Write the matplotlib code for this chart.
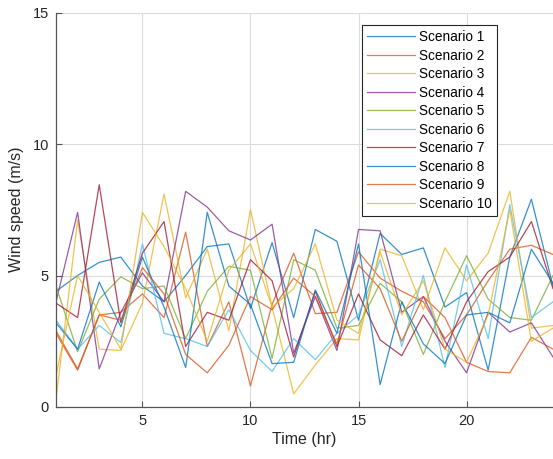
import matplotlib
matplotlib.use('Agg')
import matplotlib.pyplot as plt

# Horas y velocidades de viento por escenario (m/s)
horas = list(range(1, 25))

s1 = [4.4, 5.0, 5.5, 5.7, 4.6, 4.0, 5.0, 6.1, 6.2, 3.75, 6.25, 3.4, 6.75, 6.3, 3.3, 6.6, 5.8, 6.05, 3.8, 4.35, 1.4, 5.7, 7.9, 4.6]
s2 = [2.9, 1.45, 3.5, 3.6, 4.3, 3.4, 6.65, 2.3, 4.0, 0.8, 3.9, 5.85, 3.55, 3.6, 5.9, 4.9, 4.4, 4.0, 2.6, 3.5, 4.8, 6.0, 6.15, 5.8]
s3 = [0.3, 7.1, 2.2, 2.15, 3.95, 8.1, 4.15, 6.0, 2.9, 7.5, 3.8, 0.5, 1.6, 2.6, 2.55, 6.0, 5.75, 3.7, 6.05, 4.8, 5.85, 8.2, 3.0, 3.1]
s4 = [4.0, 7.4, 1.45, 3.6, 5.1, 4.0, 8.2, 7.6, 6.7, 6.35, 6.95, 2.05, 4.2, 2.15, 6.75, 6.7, 3.6, 4.2, 2.5, 1.3, 3.6, 2.85, 3.2, 1.9]
s5 = [4.6, 2.1, 4.1, 4.95, 4.5, 4.6, 2.6, 4.4, 5.35, 5.2, 1.85, 5.6, 5.2, 3.0, 3.1, 4.7, 4.0, 2.0, 4.0, 5.75, 4.1, 3.4, 3.3, 5.0]
s6 = [3.3, 2.2, 3.1, 2.45, 6.2, 2.8, 2.6, 2.3, 3.7, 2.15, 1.35, 2.6, 1.8, 2.8, 3.5, 5.6, 2.3, 5.0, 1.5, 5.4, 2.6, 7.7, 3.4, 4.0]
s7 = [3.95, 3.4, 8.45, 3.2, 5.85, 7.05, 2.3, 3.6, 3.3, 5.6, 4.8, 1.9, 4.4, 2.3, 4.3, 2.55, 1.95, 3.5, 2.2, 4.0, 5.15, 5.7, 7.05, 4.5]
s8 = [3.2, 2.2, 4.75, 3.05, 5.7, 3.8, 1.5, 7.4, 4.6, 3.9, 1.65, 1.7, 4.45, 2.8, 6.2, 0.85, 4.0, 2.4, 1.65, 3.5, 3.6, 3.2, 6.0, 4.7]
s9 = [2.8, 1.4, 3.5, 3.3, 5.3, 4.3, 2.0, 1.3, 2.35, 4.2, 3.7, 4.9, 4.2, 2.4, 5.4, 4.5, 2.5, 4.2, 3.4, 1.7, 1.35, 1.3, 2.65, 2.2]
s10 = [1.2, 5.0, 3.6, 2.2, 7.4, 6.1, 4.5, 2.5, 5.2, 6.2, 3.8, 4.5, 6.2, 3.3, 2.8, 5.9, 3.5, 4.8, 2.2, 1.7, 3.5, 7.5, 2.5, 3.0]

escenarios = [s1, s2, s3, s4, s5, s6, s7, s8, s9, s10]
nombres = ['Scenario %d' % (i + 1) for i in range(len(escenarios))]

# Colores por defecto de MATLAB
colores = ['#0072BD', '#D95319', '#EDB120', '#7E2F8E', '#77AC30',
           '#4DBEEE', '#A2142F']


def main():
    plt.rcParams['font.family'] = ['Liberation Sans', 'DejaVu Sans']

    fig = plt.figure(figsize=(5.53, 4.59), dpi=100)
    ax = fig.add_axes([56 / 553, 52 / 459, 497 / 553, 394.5 / 459])

    for i, valores in enumerate(escenarios):
        ax.plot(horas, valores, color=colores[i % len(colores)], lw=0.9,
                alpha=0.78, label=nombres[i])

    ax.set_xlim(1, 24)
    ax.set_ylim(0, 15)
    ax.set_xticks([5, 10, 15, 20])
    ax.set_yticks([0, 5, 10, 15])
    ax.grid(True, color='#dcdcdc', lw=0.8)
    ax.set_axisbelow(True)

    for lado in ['top', 'right']:
        ax.spines[lado].set_visible(False)
    for lado in ['left', 'bottom']:
        ax.spines[lado].set_color('#555555')
        ax.spines[lado].set_linewidth(0.9)
    ax.tick_params(direction='in', length=4, width=0.8, color='#555555',
                   labelsize=10.5, labelcolor='#262626', pad=5)

    ax.set_xlabel('Time (hr)', fontsize=11.5, color='#262626', labelpad=3)
    ax.set_ylabel('Wind speed (m/s)', fontsize=11.5, color='#262626', labelpad=6)

    leg = ax.legend(loc='upper left', bbox_to_anchor=(361.7 / 553, 1 - 25 / 459),
                    bbox_transform=fig.transFigure, fontsize=9.8,
                    handlelength=3.5, handletextpad=0.3, labelspacing=0.33,
                    borderpad=0.38, borderaxespad=0, fancybox=False,
                    framealpha=1, edgecolor='#262626')
    leg.get_frame().set_linewidth(0.8)

    fig.savefig('out.png', dpi=100)


if __name__ == '__main__':
    main()
